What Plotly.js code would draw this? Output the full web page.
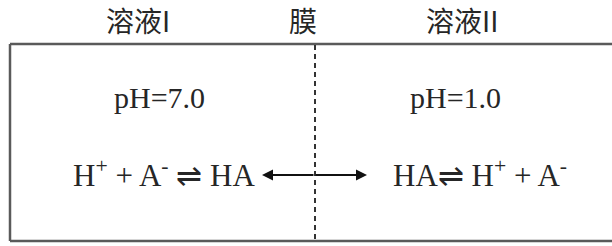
<!DOCTYPE html>
<html>
<head>
<meta charset="utf-8">
<script src="https://cdn.plot.ly/plotly-3.0.1.min.js"></script>
<style>html,body{margin:0;padding:0;background:#fff;}#chart{width:612px;height:246px;}</style>
</head>
<body>
<div id="chart"></div>
<script>
// Content of the diagram
const headerLabels = ["溶液I", "膜", "溶液II"];
const phLabels = ["pH=7.0", "pH=1.0"];
const equations = ["H<sup>+</sup> + A<sup>-</sup> ⇌ HA", "HA⇌ H<sup>+</sup> + A<sup>-</sup>"];

const serif = "Liberation Serif, Times New Roman, serif";
const cjk = "Noto Sans CJK SC, sans-serif";
const textColor = "#262626";
const lineColor = "#5a5a5a";

const headerX = [138, 303, 462];
const phX = [159, 455];
const eqX = [164, 480];

const annotations = [];
headerLabels.forEach((t, i) => annotations.push({
  x: headerX[i], y: 20, xref: "x", yref: "y", text: t, showarrow: false,
  font: {family: cjk, size: 28, color: textColor}, xanchor: "center", yanchor: "middle"
}));
phLabels.forEach((t, i) => annotations.push({
  x: phX[i], y: 97, xref: "x", yref: "y", text: t, showarrow: false,
  font: {family: serif, size: 30, color: textColor}, xanchor: "center", yanchor: "middle"
}));
equations.forEach((t, i) => annotations.push({
  x: eqX[i], y: 173, xref: "x", yref: "y", text: t, showarrow: false,
  font: {family: serif, size: 31, color: textColor}, xanchor: "center", yanchor: "middle"
}));
// double-headed arrow across the membrane
annotations.push({x: 262, y: 175, ax: 315, ay: 175, xref: "x", yref: "y", axref: "x", ayref: "y",
  text: "", showarrow: true, arrowhead: 2, arrowsize: 1.1, arrowwidth: 2, arrowcolor: "#111"});
annotations.push({x: 367, y: 175, ax: 314, ay: 175, xref: "x", yref: "y", axref: "x", ayref: "y",
  text: "", showarrow: true, arrowhead: 2, arrowsize: 1.1, arrowwidth: 2, arrowcolor: "#111"});

const shapes = [
  {type: "line", x0: 10, x1: 612, y0: 44, y1: 44, line: {color: lineColor, width: 2.5}},
  {type: "line", x0: 10, x1: 10, y0: 44, y1: 241, line: {color: lineColor, width: 2.5}},
  {type: "line", x0: 10, x1: 612, y0: 241, y1: 241, line: {color: lineColor, width: 2.5}},
  {type: "line", x0: 315, x1: 315, y0: 45, y1: 240, line: {color: "#333", width: 2, dash: "5px,4px"}}
];

const layout = {
  width: 612, height: 246,
  margin: {l: 0, r: 0, t: 0, b: 0},
  paper_bgcolor: "#fff", plot_bgcolor: "#fff",
  xaxis: {range: [0, 612], visible: false, fixedrange: true},
  yaxis: {range: [246, 0], visible: false, fixedrange: true},
  showlegend: false,
  annotations: annotations,
  shapes: shapes
};
Plotly.newPlot("chart", [], layout, {staticPlot: true, displayModeBar: false});
</script>
</body>
</html>
